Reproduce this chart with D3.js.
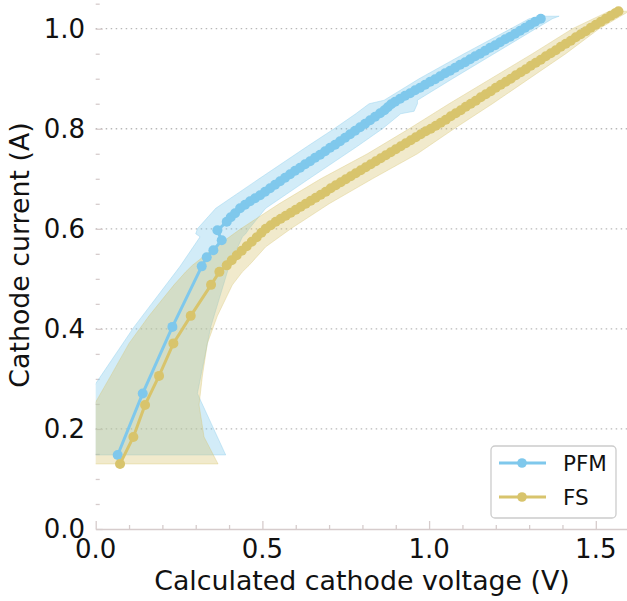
<!DOCTYPE html>
<html>
<head>
<meta charset="utf-8">
<script src="https://cdn.jsdelivr.net/npm/d3@7"></script>
<style>
  body { margin: 0; background: #fff; }
  text { font-family: 'DejaVu Sans', sans-serif; }
</style>
</head>
<body>
<div id="chart"></div>
<script>
// PFM: calculated cathode voltage (V) and cathode current (A)
const pfmVoltage = [0.066, 0.141, 0.230, 0.318, 0.333, 0.353, 0.378, 0.365, 0.393, 0.405, 0.418, 0.433, 0.448, 0.463, 0.478, 0.493, 0.508, 0.523, 0.538, 0.553, 0.568, 0.583, 0.598, 0.613, 0.628, 0.643, 0.658, 0.673, 0.688, 0.703, 0.718, 0.733, 0.748, 0.763, 0.778, 0.793, 0.808, 0.823, 0.838, 0.853, 0.866, 0.876, 0.886, 0.898, 0.913, 0.928, 0.943, 0.958, 0.973, 0.988, 1.003, 1.018, 1.033, 1.048, 1.063, 1.078, 1.093, 1.108, 1.123, 1.138, 1.153, 1.168, 1.183, 1.198, 1.213, 1.228, 1.243, 1.258, 1.273, 1.288, 1.303, 1.318, 1.335]
const pfmCurrent = [0.148, 0.271, 0.404, 0.525, 0.543, 0.557, 0.577, 0.597, 0.614, 0.623, 0.631, 0.641, 0.648, 0.655, 0.661, 0.667, 0.674, 0.681, 0.688, 0.695, 0.702, 0.709, 0.716, 0.722, 0.729, 0.735, 0.742, 0.748, 0.755, 0.762, 0.768, 0.775, 0.782, 0.789, 0.796, 0.803, 0.810, 0.817, 0.824, 0.831, 0.837, 0.843, 0.849, 0.854, 0.860, 0.866, 0.871, 0.877, 0.882, 0.888, 0.894, 0.899, 0.905, 0.911, 0.916, 0.922, 0.928, 0.933, 0.939, 0.945, 0.950, 0.956, 0.962, 0.967, 0.973, 0.979, 0.984, 0.990, 0.996, 1.002, 1.008, 1.014, 1.020]
// PFM voltage spread band: current, lower voltage, upper voltage
const pfmBandCurrent = [0.148, 0.271, 0.404, 0.525, 0.584, 0.590, 0.600, 0.641, 0.700, 0.765, 0.800, 0.830, 0.835, 0.850, 0.857, 0.900, 0.950, 1.000, 1.020, 1.025]
const pfmBandLow = [-0.26, -0.02, 0.115, 0.253, 0.313, 0.300, 0.305, 0.360, 0.490, 0.635, 0.715, 0.780, 0.790, 0.820, 0.865, 0.970, 1.105, 1.245, 1.300, 1.340]
const pfmBandHigh = [0.390, 0.305, 0.345, 0.400, 0.440, 0.450, 0.460, 0.510, 0.640, 0.785, 0.860, 0.915, 0.955, 0.965, 0.965, 1.070, 1.195, 1.320, 1.370, 1.390]

// FS
const fsVoltage = [0.073, 0.113, 0.148, 0.190, 0.233, 0.285, 0.346, 0.371, 0.393, 0.408, 0.423, 0.438, 0.453, 0.468, 0.483, 0.497, 0.510, 0.525, 0.540, 0.555, 0.570, 0.585, 0.600, 0.615, 0.630, 0.645, 0.660, 0.675, 0.690, 0.705, 0.720, 0.735, 0.750, 0.765, 0.780, 0.795, 0.810, 0.825, 0.840, 0.855, 0.870, 0.885, 0.900, 0.915, 0.930, 0.945, 0.960, 0.975, 0.990, 1.005, 1.020, 1.035, 1.050, 1.065, 1.080, 1.095, 1.110, 1.125, 1.140, 1.155, 1.170, 1.185, 1.200, 1.215, 1.230, 1.245, 1.260, 1.275, 1.290, 1.305, 1.320, 1.335, 1.350, 1.365, 1.380, 1.395, 1.410, 1.425, 1.440, 1.455, 1.470, 1.485, 1.500, 1.515, 1.530, 1.545, 1.558, 1.568]
const fsCurrent = [0.130, 0.184, 0.248, 0.306, 0.371, 0.426, 0.488, 0.514, 0.527, 0.537, 0.547, 0.556, 0.565, 0.574, 0.583, 0.592, 0.600, 0.607, 0.614, 0.620, 0.626, 0.632, 0.638, 0.644, 0.650, 0.656, 0.662, 0.668, 0.674, 0.681, 0.687, 0.693, 0.699, 0.705, 0.711, 0.717, 0.723, 0.729, 0.735, 0.741, 0.747, 0.753, 0.759, 0.765, 0.771, 0.777, 0.783, 0.789, 0.795, 0.800, 0.806, 0.812, 0.818, 0.825, 0.831, 0.837, 0.844, 0.850, 0.856, 0.863, 0.869, 0.875, 0.882, 0.888, 0.894, 0.900, 0.907, 0.913, 0.919, 0.926, 0.932, 0.938, 0.945, 0.951, 0.957, 0.964, 0.970, 0.976, 0.983, 0.989, 0.995, 1.002, 1.008, 1.014, 1.020, 1.026, 1.031, 1.035]
const fsBandCurrent = [0.130, 0.184, 0.248, 0.306, 0.371, 0.426, 0.488, 0.514, 0.527, 0.564, 0.600, 0.650, 0.700, 0.750, 0.800, 0.850, 0.900, 0.950, 1.000, 1.035]
const fsBandLow = [-0.22, -0.10, -0.005, 0.045, 0.100, 0.160, 0.235, 0.270, 0.290, 0.360, 0.435, 0.550, 0.675, 0.815, 0.940, 1.060, 1.185, 1.310, 1.430, 1.540]
const fsBandHigh = [0.367, 0.325, 0.310, 0.320, 0.335, 0.365, 0.410, 0.440, 0.460, 0.510, 0.585, 0.700, 0.830, 0.965, 1.075, 1.190, 1.300, 1.410, 1.510, 1.600]

const xTicks = [0, 0.5, 1.0, 1.5]
const yTicks = [0, 0.2, 0.4, 0.6, 0.8, 1.0]
const seriesNames = ['PFM', 'FS']

const chartWidth = 627
const chartHeight = 601
const left = 95.7
const bottom = 529
const blue = '#7fc8ec'
const gold = '#d8c46c'

const svg = d3
  .select('#chart')
  .append('svg')
  .attr('width', chartWidth)
  .attr('height', chartHeight)

const scaleX = d3.scaleLinear().domain([0, 1.6]).range([left, left + 1.6 * 333.4])
const scaleY = d3.scaleLinear().domain([0, 1.055]).range([bottom, bottom - 1.055 * 500.3])

const series = [
  { name: seriesNames[0], color: blue, v: pfmVoltage, c: pfmCurrent, bc: pfmBandCurrent, lo: pfmBandLow, hi: pfmBandHigh },
  { name: seriesNames[1], color: gold, v: fsVoltage, c: fsCurrent, bc: fsBandCurrent, lo: fsBandLow, hi: fsBandHigh },
]

// clip to plot area
svg
  .append('clipPath')
  .attr('id', 'plot-clip')
  .append('rect')
  .attr('x', left)
  .attr('y', scaleY(1.055))
  .attr('width', chartWidth - left)
  .attr('height', bottom - scaleY(1.055))

// grid lines (dotted)
svg
  .append('g')
  .selectAll('line')
  .data(yTicks.filter(d => d > 0))
  .enter()
  .append('line')
  .attr('x1', left)
  .attr('x2', chartWidth)
  .attr('y1', d => scaleY(d))
  .attr('y2', d => scaleY(d))
  .attr('stroke', '#b8b8b8')
  .attr('stroke-width', 1.3)
  .attr('stroke-dasharray', '1.5,3.5')

// Axes
const axisX = d3
  .axisBottom(scaleX)
  .tickValues(d3.range(0, 1.61, 0.1))
  .tickSize(0)
  .tickFormat('')

const gx = svg
  .append('g')
  .attr('transform', 'translate(0,' + bottom + ')')
  .call(axisX)
gx.select('.domain').attr('stroke', '#d6cccc').attr('stroke-width', 1.5)
gx.selectAll('.tick line')
  .attr('y2', (d, i) => (i % 5 === 0 ? -8 : -4))
  .attr('stroke', '#d6cccc')
  .attr('stroke-width', 1.3)

svg
  .append('g')
  .selectAll('text')
  .data(xTicks)
  .enter()
  .append('text')
  .attr('x', d => scaleX(d))
  .attr('y', bottom + 29)
  .attr('text-anchor', 'middle')
  .attr('font-size', 26)
  .attr('fill', '#111')
  .text(d => d.toFixed(1))

const axisY = d3
  .axisLeft(scaleY)
  .tickValues(d3.range(0, 1.06, 0.05))
  .tickSize(0)
  .tickFormat('')

const gy = svg
  .append('g')
  .attr('transform', 'translate(' + left + ',0)')
  .call(axisY)
gy.select('.domain').remove()
gy.selectAll('.tick line')
  .attr('x2', (d, i) => (i % 4 === 0 ? 7 : 4))
  .attr('stroke', '#d6cccc')
  .attr('stroke-width', 1.3)

svg
  .append('g')
  .selectAll('text')
  .data(yTicks)
  .enter()
  .append('text')
  .attr('x', 85)
  .attr('y', d => scaleY(d))
  .attr('dy', '0.36em')
  .attr('text-anchor', 'end')
  .attr('font-size', 26)
  .attr('fill', '#111')
  .text(d => d.toFixed(1))

// axis titles
svg
  .append('text')
  .attr('x', 362)
  .attr('y', 590)
  .attr('text-anchor', 'middle')
  .attr('font-size', 26.8)
  .attr('fill', '#111')
  .text('Calculated cathode voltage (V)')

svg
  .append('text')
  .attr('transform', 'translate(29,255) rotate(-90)')
  .attr('text-anchor', 'middle')
  .attr('font-size', 26.8)
  .attr('fill', '#111')
  .text('Cathode current (A)')

// bands + lines
const plot = svg.append('g').attr('clip-path', 'url(#plot-clip)')

function createBands() {
  series.forEach(s => {
    const area = d3
      .area()
      .y(i => scaleY(s.bc[i]))
      .x0(i => scaleX(s.lo[i]))
      .x1(i => scaleX(s.hi[i]))
    plot
      .append('path')
      .attr('d', area(d3.range(s.bc.length)))
      .attr('fill', s.color)
      .attr('fill-opacity', 0.35)
      .attr('stroke', s.color)
      .attr('stroke-opacity', 0.35)
      .attr('stroke-width', 1)
  })
}
createBands()

function createLines() {
  series.forEach(s => {
    const idx = d3.range(s.v.length)
    const line = d3
      .line()
      .x(i => scaleX(s.v[i]))
      .y(i => scaleY(s.c[i]))
    plot
      .append('path')
      .attr('d', line(idx))
      .attr('fill', 'none')
      .attr('stroke', s.color)
      .attr('stroke-width', 3)
    plot
      .append('g')
      .selectAll('circle')
      .data(idx)
      .enter()
      .append('circle')
      .attr('cx', i => scaleX(s.v[i]))
      .attr('cy', i => scaleY(s.c[i]))
      .attr('r', 5)
      .attr('fill', s.color)
  })
}
createLines()

// Legend
function createLegend() {
  const g = svg.append('g')
  g.append('rect')
    .attr('x', 491)
    .attr('y', 446)
    .attr('width', 125)
    .attr('height', 72)
    .attr('rx', 4)
    .attr('fill', '#fff')
    .attr('fill-opacity', 0.85)
    .attr('stroke', '#cccccc')
    .attr('stroke-width', 1.3)
  series.forEach((s, i) => {
    const y = 463 + i * 34
    g.append('line')
      .attr('x1', 499)
      .attr('x2', 546)
      .attr('y1', y)
      .attr('y2', y)
      .attr('stroke', s.color)
      .attr('stroke-width', 3)
    g.append('circle')
      .attr('cx', 522)
      .attr('cy', y)
      .attr('r', 4.8)
      .attr('fill', s.color)
    g.append('text')
      .attr('x', 563)
      .attr('y', y)
      .attr('dy', '0.36em')
      .attr('font-size', 21.5)
      .attr('fill', '#111')
      .text(s.name)
  })
}
createLegend()
</script>
</body>
</html>
